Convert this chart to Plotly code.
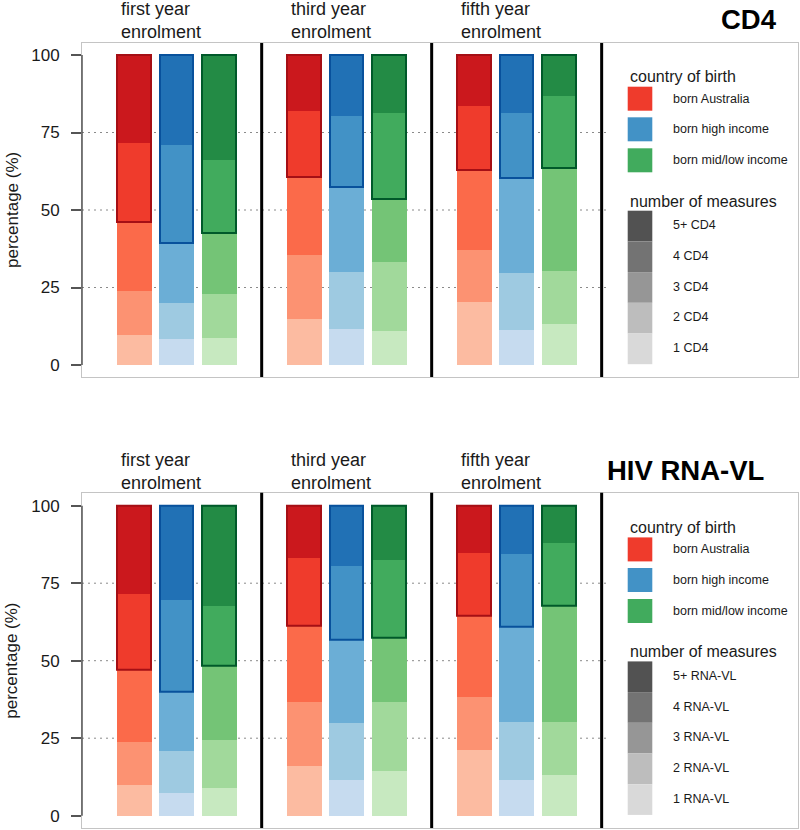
import plotly.graph_objects as go

# ---------------- data ----------------
year_labels = ["first year<br>enrolment", "third year<br>enrolment", "fifth year<br>enrolment"]
origin_labels = ["born Australia", "born high income", "born mid/low income"]
measure_levels = ["1", "2", "3", "4", "5+"]
panel_titles = ["CD4", "HIV RNA-VL"]
y_ticks = [0, 25, 50, 75, 100]

# share (%) of people with 1, 2, 3, 4, 5+ measures; one row per enrolment year (first, third, fifth)
cd4_australia = [[9.7, 14.2, 22.1, 25.5, 28.5], [14.9, 20.6, 25.3, 21.1, 18.1], [20.4, 16.7, 25.8, 20.6, 16.5]]
cd4_high_income = [[8.3, 11.6, 19.3, 31.8, 29.0], [11.5, 18.4, 27.6, 22.8, 19.7], [11.3, 18.3, 30.8, 20.8, 18.8]]
cd4_mid_low_income = [[8.8, 14.0, 19.9, 23.4, 33.9], [11.1, 22.0, 20.3, 28.0, 18.6], [13.1, 17.2, 33.1, 23.5, 13.1]]

vl_australia = [[9.9, 14.0, 23.3, 24.3, 28.5], [16.1, 20.7, 24.5, 21.9, 16.8], [21.4, 17.0, 26.1, 20.4, 15.1]]
vl_high_income = [[7.5, 13.5, 19.0, 29.6, 30.4], [11.5, 18.6, 26.8, 23.6, 19.5], [11.7, 18.6, 30.7, 23.6, 15.4]]
vl_mid_low_income = [[9.1, 15.3, 24.0, 19.3, 32.3], [14.4, 22.4, 20.7, 25.0, 17.5], [13.3, 17.0, 37.4, 20.4, 11.9]]

panels = [
    [cd4_australia, cd4_high_income, cd4_mid_low_income],
    [vl_australia, vl_high_income, vl_mid_low_income],
]

# ---------------- styles ----------------
shades = [
    ["#fcbba1", "#fc9272", "#fb6a4a", "#ef3b2c", "#cb181d"],
    ["#c6dbef", "#9ecae1", "#6baed6", "#4292c6", "#2171b5"],
    ["#c7e9c0", "#a1d99b", "#74c476", "#41ab5d", "#238b45"],
]
outline_colors = ["#a50f15", "#08519c", "#00592a"]
legend_colors = ["#ef3b2c", "#4292c6", "#41ab5d"]
greys = ["#d9d9d9", "#bdbdbd", "#969696", "#737373", "#525252"]
FONT = "Liberation Sans, Arial, Helvetica, sans-serif"

W, H = 800, 830
BAR_W = 0.82
GROUP_STEP = 4


def px(x):
    return x / W


def py(y):
    return 1 - y / H


panel_offset = [0, 450.7]
box_top = [43, 492.7]
box_bot = [377, 828]
zero_px = [365, 815.7]
unit = 3.1  # px per %

x_left, x_right = -1.228, 15.62

fig = go.Figure()
annotations = []
shapes = []

for p, data in enumerate(panels):
    xa = "x" if p == 0 else "x2"
    ya = "y" if p == 0 else "y2"
    for o, series in enumerate(data):
        xs = [g * GROUP_STEP + o for g in range(len(series))]
        cum = [0.0] * len(series)
        for k in range(len(measure_levels)):
            vals = [series[g][k] for g in range(len(series))]
            fig.add_trace(go.Bar(
                x=xs, y=vals, base=list(cum), width=BAR_W,
                marker=dict(color=shades[o][k], line=dict(width=0)),
                xaxis=xa, yaxis=ya, showlegend=False,
                name=f"{origin_labels[o]} - {measure_levels[k]}",
            ))
            cum = [c + v for c, v in zip(cum, vals)]
        # outline around the "4" and "5+" segments together
        base3 = [sum(series[g][:3]) for g in range(len(series))]
        top2 = [sum(series[g][3:]) for g in range(len(series))]
        fig.add_trace(go.Bar(
            x=xs, y=top2, base=base3, width=BAR_W - 0.03,
            marker=dict(color="rgba(0,0,0,0)", line=dict(color=outline_colors[o], width=2)),
            xaxis=xa, yaxis=ya, showlegend=False, hoverinfo="skip",
        ))

    # dashed gridlines
    for t in y_ticks[1:-1]:
        shapes.append(dict(type="line", xref=xa, yref=ya, x0=x_left, x1=11.12, y0=t, y1=t,
                           line=dict(color="#8a8a8a", width=1, dash="2px,4px"), layer="below"))
    # group dividers
    for d in range(1, 4):
        xd = d * GROUP_STEP - 1
        shapes.append(dict(type="line", xref=xa, yref=f"{ya} domain", x0=xd, x1=xd, y0=0, y1=1,
                           line=dict(color="black", width=3)))
    # dark axis segment from 0 to 100
    shapes.append(dict(type="line", xref=f"{xa} domain", yref=ya, x0=0, x1=0, y0=0, y1=100,
                       line=dict(color="#555555", width=1.5)))

    off = panel_offset[p]
    # group labels
    for g, lab in enumerate(year_labels):
        annotations.append(dict(text=lab, xref=xa, yref="paper", x=g * GROUP_STEP - BAR_W / 2,
                                xshift=2, y=py(20.5 + off), xanchor="left", yanchor="middle",
                                align="left", showarrow=False,
                                font=dict(family=FONT, size=18, color="#1a1a1a")))
    # panel title
    title_right = [779, 766][p]
    annotations.append(dict(text=f"<b>{panel_titles[p]}</b>", xref="paper", yref="paper",
                            x=px(title_right), y=py(20 + off), xanchor="right", yanchor="middle",
                            showarrow=False, font=dict(family=FONT, size=27.5, color="black")))
    # y axis title
    annotations.append(dict(text="percentage (%)", xref="paper", yref=ya, x=px(12), y=50,
                            textangle=-90, xanchor="center", yanchor="middle", showarrow=False,
                            font=dict(family=FONT, size=17, color="#1a1a1a")))

    # legend: country of birth
    annotations.append(dict(text="country of birth", xref="paper", yref="paper", x=px(628),
                            y=py(77 + off), xanchor="left", yanchor="middle", showarrow=False,
                            font=dict(family=FONT, size=16, color="#1a1a1a")))
    sw_tops = [86.7, 117.3, 148.3]
    for o in range(3):
        y0 = sw_tops[o] + off
        shapes.append(dict(type="rect", xref="paper", yref="paper", x0=px(627.7), x1=px(652.3),
                           y0=py(y0), y1=py(y0 + 24), fillcolor=legend_colors[o],
                           line=dict(width=0)))
        annotations.append(dict(text=origin_labels[o], xref="paper", yref="paper", x=px(671),
                                y=py(y0 + 12), xanchor="left", yanchor="middle",
                                showarrow=False,
                                font=dict(family=FONT, size=12.5, color="#1a1a1a")))
    # legend: number of measures
    annotations.append(dict(text="number of measures", xref="paper", yref="paper", x=px(628),
                            y=py(201 + off), xanchor="left", yanchor="middle", showarrow=False,
                            font=dict(family=FONT, size=16, color="#1a1a1a")))
    unit_name = "CD4" if p == 0 else "RNA-VL"
    for i in range(5):
        k = 4 - i
        y0 = 210.7 + i * 30.7 + off
        shapes.append(dict(type="rect", xref="paper", yref="paper", x0=px(627.7), x1=px(652.3),
                           y0=py(y0), y1=py(y0 + 30.7), fillcolor=greys[k], line=dict(width=0)))
        annotations.append(dict(text=f"{measure_levels[k]} {unit_name}", xref="paper", yref="paper",
                                x=px(671), y=py(y0 + 14.5), xanchor="left", yanchor="middle",
                                showarrow=False,
                                font=dict(family=FONT, size=12.5, color="#1a1a1a")))

xaxis_common = dict(range=[x_left, x_right], domain=[px(82), px(798)], showgrid=False,
                    zeroline=False, showticklabels=False, ticks="", showline=True, mirror=True,
                    linecolor="#c4c4c4", linewidth=1, fixedrange=True, automargin=False)


def yaxis_common(p):
    r0 = (zero_px[p] - box_bot[p]) / unit
    r1 = (zero_px[p] - box_top[p]) / unit
    return dict(range=[r0, r1], domain=[py(box_bot[p]), py(box_top[p])], showgrid=False,
                zeroline=False, tickmode="array", tickvals=y_ticks,
                ticktext=[str(t) for t in y_ticks], ticks="outside", ticklen=10,
                tickcolor="#555555", tickwidth=1.5, ticklabelstandoff=8,
                tickfont=dict(family=FONT, size=17, color="#1a1a1a"),
                showline=True, mirror=True, linecolor="#c4c4c4", linewidth=1,
                fixedrange=True, automargin=False)


fig.update_layout(
    width=W, height=H, template="none",
    margin=dict(l=0, r=0, t=0, b=0, pad=0),
    paper_bgcolor="white", plot_bgcolor="white",
    barmode="overlay", bargap=0,
    showlegend=False,
    xaxis=dict(**xaxis_common, anchor="y"),
    yaxis=dict(**yaxis_common(0), anchor="x"),
    xaxis2=dict(**xaxis_common, anchor="y2"),
    yaxis2=dict(**yaxis_common(1), anchor="x2"),
    annotations=annotations,
    shapes=shapes,
    font=dict(family=FONT),
)

fig.write_html(
    "out.html",
    config={"displayModeBar": False},
    post_script="document.body.style.margin='0';document.body.style.overflow='hidden';",
)
